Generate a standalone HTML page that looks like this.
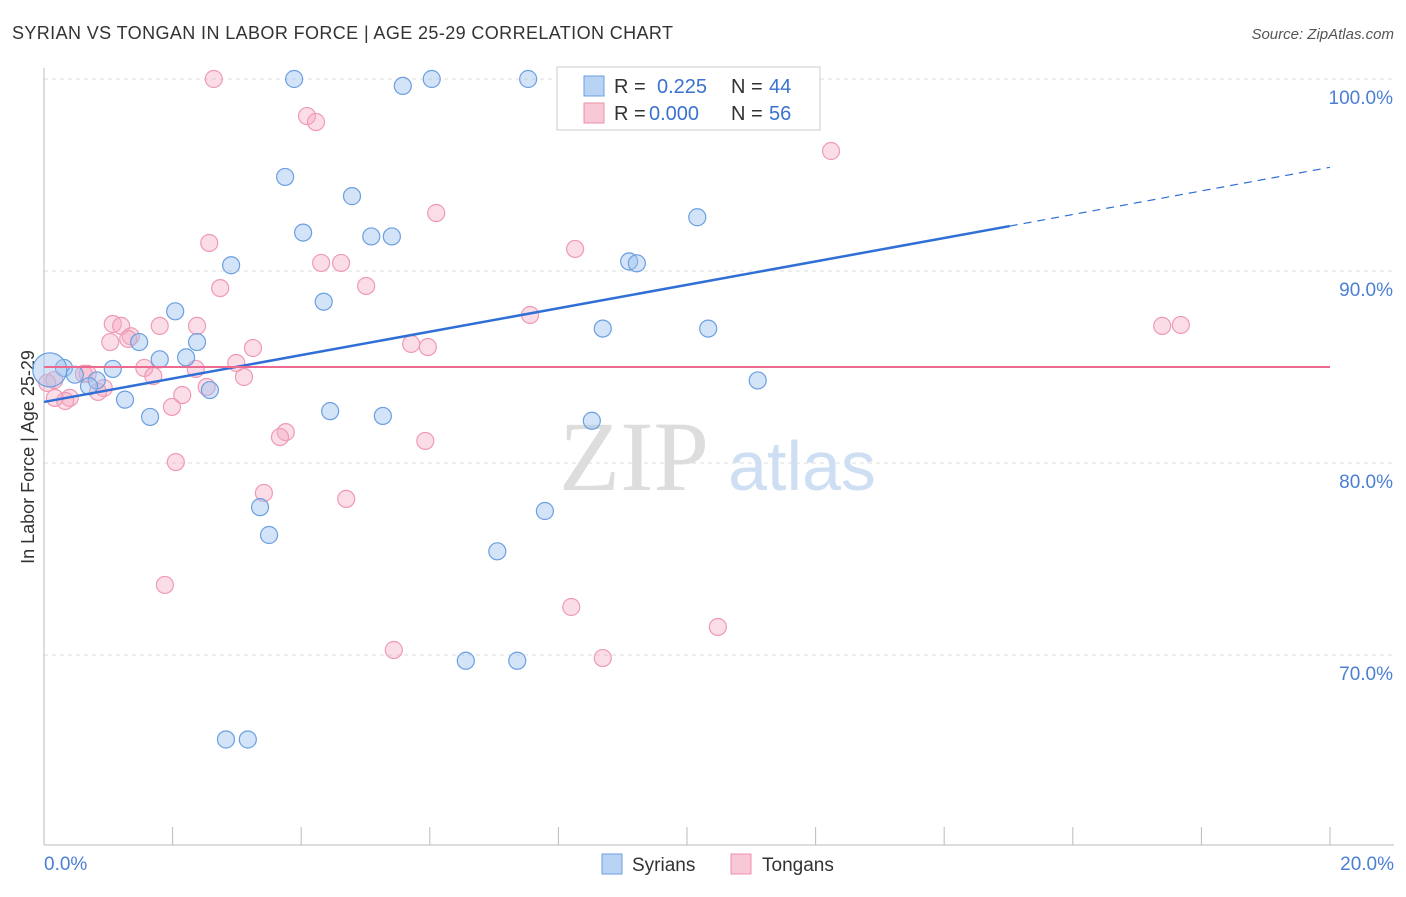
<!DOCTYPE html>
<html><head><meta charset="utf-8"><style>
body{margin:0;background:#fff;font-family:"Liberation Sans",sans-serif}
</style></head><body>
<svg id="chart" width="1406" height="892" font-family="Liberation Sans, sans-serif">
<text x="12" y="39" font-size="18" fill="#333" textLength="661">SYRIAN VS TONGAN IN LABOR FORCE | AGE 25-29 CORRELATION CHART</text>
<text x="1394" y="39" font-size="15" fill="#555" text-anchor="end" font-style="italic">Source: ZipAtlas.com</text>
<text x="34" y="457" font-size="18" fill="#333" text-anchor="middle" transform="rotate(-90 34 457)">In Labor Force | Age 25-29</text>
<g id="grid"></g>
<text x="634" y="490" font-size="100" fill="#ddd" style="font-family:'Liberation Serif',serif" text-anchor="middle">ZIP</text>
<text x="802" y="490" font-size="70" fill="#cfdff3" text-anchor="middle">atlas</text>
<g id="pts"></g>
<g id="lines"></g>
<g>
<rect x="557" y="67" width="263" height="63" fill="#fff" stroke="#ccc"/>
<rect x="584" y="76" width="20" height="20" fill="#b8d3f4" stroke="#6a9fe0"/>
<rect x="584" y="103" width="20" height="20" fill="#f9c8d6" stroke="#ec90ab"/>
<text x="614" y="93" font-size="20" fill="#333">R =</text><text x="657" y="93" font-size="20" fill="#3a72d0">0.225</text>
<text x="731" y="93" font-size="20" fill="#333">N =</text><text x="769" y="93" font-size="20" fill="#3a72d0">44</text>
<text x="614" y="120" font-size="20" fill="#333">R =</text><text x="649" y="120" font-size="20" fill="#3a72d0">0.000</text>
<text x="731" y="120" font-size="20" fill="#333">N =</text><text x="769" y="120" font-size="20" fill="#3a72d0">56</text>
</g>
<g>
<rect x="602" y="854" width="20" height="20" fill="#b8d3f4" stroke="#6a9fe0"/>
<text x="632" y="871" font-size="19" fill="#333">Syrians</text>
<rect x="731" y="854" width="20" height="20" fill="#f9c8d6" stroke="#ec90ab"/>
<text x="762" y="871" font-size="19" fill="#333">Tongans</text>
</g>
</svg>
<script>
const yTicks=[100,90,80,70];
const xTickLabels=["0.0%","20.0%"];
const syrX=[3.89,5.58,6.03,7.53,8.96,10.68,3.75,4.79,10.16,4.03,5.09,5.41,2.91,9.10,9.22,4.35,2.04,8.69,10.33,2.38,1.48,1.80,2.21,1.07,0.31,0.48,0.82,0.70,2.58,1.26,1.65,11.10,4.45,5.27,8.52,3.36,7.79,3.50,7.05,6.56,7.36,2.83,3.17,0.09];
const syrY=[100,99.64,100,100,100,100,94.9,93.9,92.8,92.0,91.8,91.8,90.3,90.5,90.4,88.4,87.9,87.0,87.0,86.3,86.3,85.4,85.5,84.9,84.95,84.6,84.3,84.0,83.8,83.3,82.4,84.3,82.7,82.45,82.2,77.7,77.5,76.25,75.4,69.7,69.7,65.6,65.6,84.85];
const tonX=[2.64,4.09,4.23,12.24,6.10,8.26,2.57,4.31,4.62,2.74,5.01,7.56,1.07,1.20,2.38,1.80,1.35,1.31,1.03,3.25,5.71,5.97,2.99,1.56,2.36,0.62,1.70,3.11,0.16,0.93,2.53,0.84,0.40,0.17,0.33,2.15,1.99,3.76,3.67,5.93,2.05,3.42,4.70,1.88,8.20,10.48,5.44,8.69,17.39,17.68,0.05,0.68];
const tonY=[100,98.07,97.76,96.25,93.02,91.15,91.46,90.42,90.42,89.11,89.22,87.71,87.24,87.14,87.14,87.14,86.6,86.46,86.3,85.99,86.2,86.04,85.21,84.95,84.9,84.64,84.53,84.48,84.32,83.9,83.96,83.7,83.39,83.39,83.23,83.54,82.92,81.61,81.35,81.15,80.05,78.44,78.13,73.65,72.5,71.46,70.26,69.84,87.14,87.19,84.17,84.64];
const syrTrend=[83.18,92.34,95.4];
const trendX=[0,15.02,20];
const tonTrend=85.0;
const NS="http://www.w3.org/2000/svg";
const X=v=>44+v*64.3, Y=v=>79+(100-v)*19.2;
function mk(t,a,p){const e=document.createElementNS(NS,t);for(const k in a)e.setAttribute(k,a[k]);p.appendChild(e);return e;}
const g=document.getElementById('grid');
yTicks.forEach(t=>{
 const l=mk('line',{x1:44,x2:1394,y1:Y(t),y2:Y(t),stroke:'#ddd','stroke-dasharray':'4,4'},g);
 
 
 const tx=mk('text',{x:1393,y:Y(t)+25,'font-size':19,fill:'#4a7fd4','text-anchor':'end'},g);
 tx.textContent=t.toFixed(1)+'%';
 
 
});
const ax=mk('line',{x1:44,x2:44,y1:68,y2:845,stroke:'#bbb'},g);


const bx=mk('line',{x1:44,x2:1394,y1:845,y2:845,stroke:'#bbb'},g);


for(let i=0;i<=10;i++){
 const t=mk('line',{x1:X(i*2),x2:X(i*2),y1:827,y2:845,stroke:'#bbb'},g);
 
 
}
xTickLabels.forEach((s,i)=>{
 const tx=mk('text',{x:i?1394:44,y:870,'font-size':19,fill:'#4a7fd4','text-anchor':i?'end':'start'},g);
 tx.textContent=s;
 
 
});
const p=document.getElementById('pts');
tonX.forEach((x,i)=>{
 const c=mk('circle',{cx:X(x),cy:Y(tonY[i]),r:8.5,fill:'rgba(246,170,195,0.4)',stroke:'#ef9ab4','stroke-width':1.2},p);
 
 
});
syrX.forEach((x,i)=>{
 const c=mk('circle',{cx:X(x),cy:Y(syrY[i]),r:i==syrX.length-1?17:8.5,fill:'rgba(160,195,240,0.45)',stroke:'#6a9fe0','stroke-width':1.2},p);
 
 
});
const L=document.getElementById('lines');
const t1=mk('line',{x1:X(trendX[0]),y1:Y(syrTrend[0]),x2:X(trendX[1]),y2:Y(syrTrend[1]),stroke:'#2f6fd6','stroke-width':2.5},L);


const t2=mk('line',{x1:X(trendX[1]),y1:Y(syrTrend[1]),x2:X(trendX[2]),y2:Y(syrTrend[2]),stroke:'#2f6fd6','stroke-width':1.2,'stroke-dasharray':'8,6'},L);


const t3=mk('line',{x1:X(0),y1:Y(tonTrend),x2:X(20),y2:Y(tonTrend),stroke:'#ec6a90','stroke-width':2},L);


</script>
</body></html>
